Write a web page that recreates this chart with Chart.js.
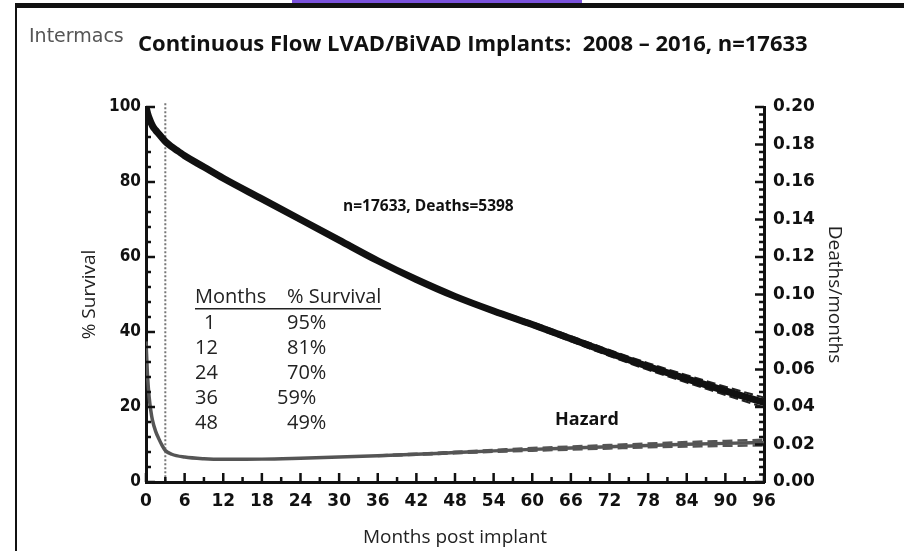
<!DOCTYPE html>
<html>
<head>
<meta charset="utf-8">
<script src="https://cdn.jsdelivr.net/npm/chart.js@4.4.1/dist/chart.umd.min.js"></script>
<style>
html, body { margin: 0; padding: 0; background: #fff; }
#wrap { width: 904px; height: 551px; }
</style>
</head>
<body>
<div id="wrap"><canvas id="survivalChart" width="904" height="551"></canvas></div>
<script>
// survival curve (% alive), left axis
var survMonths = [0, 0.25, 0.5, 1, 1.5, 2, 3, 4, 5, 6, 9, 12, 18, 24, 30, 36, 42, 48, 54, 60, 66, 72, 78, 84, 90, 96];
var survival   = [100, 98.3, 97, 95, 93.8, 92.8, 90.8, 89.4, 88.2, 87, 84, 81, 75.5, 70, 64.5, 59, 54, 49.5, 45.6, 42, 38.2, 34.4, 30.8, 27.5, 24.3, 21.2];

// confidence limits, only separate from the curve late on
var bandMonths = [36, 42, 48, 54, 60, 66, 72, 78, 84, 90, 96];
var survUpper  = [59.2, 54.3, 49.9, 46.1, 42.6, 38.9, 35.2, 31.7, 28.5, 25.4, 22.5];
var survLower  = [58.8, 53.7, 49.1, 45.1, 41.4, 37.5, 33.6, 29.9, 26.5, 23.2, 19.9];

// hazard (deaths/month), right axis
var hazMonths = [0, 0.25, 0.5, 0.75, 1, 1.5, 2, 2.5, 3, 4, 6, 9, 12, 18, 24, 30, 36, 42, 48, 54, 60, 66, 72, 78, 84, 90, 96];
var hazard    = [0.075, 0.056, 0.045, 0.038, 0.033, 0.027, 0.023, 0.0195, 0.0168, 0.0148, 0.0133, 0.0124, 0.0121, 0.0122, 0.0127, 0.0133, 0.014, 0.0148, 0.0157, 0.0166, 0.0174, 0.0181, 0.0188, 0.0195, 0.0201, 0.0206, 0.021];
var hazUpper  = [0.0142, 0.0151, 0.0161, 0.0171, 0.0181, 0.0189, 0.0197, 0.0205, 0.0213, 0.0219, 0.0225];
var hazLower  = [0.0138, 0.0145, 0.0153, 0.0161, 0.0167, 0.0173, 0.0179, 0.0185, 0.0189, 0.0193, 0.0195];

// tick labels
var monthTicks = [0, 6, 12, 18, 24, 30, 36, 42, 48, 54, 60, 66, 72, 78, 84, 90, 96];

// survival table
var tableMonths   = ['1', '12', '24', '36', '48'];
var tableSurvival = ['95%', '81%', '70%', '59%', '49%'];

function pts(xs, ys) {
    return xs.map(function (x, i) { return { x: x, y: ys[i] }; });
}

var tickFont = { family: '"DejaVu Sans", sans-serif', size: 17, weight: 'bold' };
var leftTickFont = { family: '"DejaVu Sans Condensed", "DejaVu Sans", sans-serif', size: 17, weight: 'bold' };
var titleFont = { family: '"Open Sans", sans-serif', size: 19 };

// frame, heading, annotations and inward ticks
var decor = {
    id: 'decor',
    beforeDraw: function (chart) {
        var ctx = chart.ctx;
        ctx.save();
        ctx.fillStyle = '#fff';
        ctx.fillRect(0, 0, chart.width, chart.height);
        ctx.fillStyle = '#7a52dc';
        ctx.fillRect(292, 0, 290, 3);
        ctx.fillStyle = '#111';
        ctx.fillRect(15, 3, chart.width - 15, 5);
        ctx.fillRect(15, 3, 2, chart.height);
        ctx.restore();
    },
    beforeDatasetsDraw: function (chart) {
        var ctx = chart.ctx, x = chart.scales.x, y = chart.scales.y;
        var px = x.getPixelForValue(3);
        ctx.save();
        ctx.strokeStyle = '#777';
        ctx.lineWidth = 2;
        ctx.setLineDash([2, 2]);
        ctx.beginPath();
        ctx.moveTo(px, y.getPixelForValue(101));
        ctx.lineTo(px, y.bottom);
        ctx.stroke();
        ctx.restore();
    },
    afterDraw: function (chart) {
        var ctx = chart.ctx, x = chart.scales.x, y = chart.scales.y, y2 = chart.scales.y2;
        var a = chart.chartArea;
        ctx.save();
        ctx.strokeStyle = '#111';
        ctx.lineWidth = 2.5;
        ctx.beginPath();
        var v, p, len;
        for (v = 0; v <= 96; v += 3) {
            p = x.getPixelForValue(v);
            len = v % 6 === 0 ? 9 : 5;
            ctx.moveTo(p, a.bottom); ctx.lineTo(p, a.bottom - len);
        }
        for (v = 0; v <= 100; v += 4) {
            p = y.getPixelForValue(v);
            len = v % 20 === 0 ? 9 : 5;
            ctx.moveTo(a.left, p); ctx.lineTo(a.left + len, p);
        }
        for (v = 0; v <= 50; v += 1) {
            p = y2.getPixelForValue(v * 0.004);
            len = v % 5 === 0 ? 9 : 5;
            ctx.moveTo(a.right, p); ctx.lineTo(a.right - len, p);
        }
        ctx.stroke();

        // heading
        ctx.textBaseline = 'middle';
        ctx.fillStyle = '#555';
        ctx.font = '19px "DejaVu Sans", sans-serif';
        ctx.fillText('Intermacs', 29, 37);
        ctx.fillStyle = '#111';
        ctx.font = 'bold 22px "Open Sans", sans-serif';
        ctx.fillText('Continuous Flow LVAD/BiVAD Implants:  2008 \u2013 2016, n=17633', 138, 45);

        // annotations
        ctx.font = 'bold 15.5px "Open Sans", sans-serif';
        ctx.fillText('n=17633, Deaths=5398', 343, 207);
        ctx.font = 'bold 18px "Open Sans", sans-serif';
        ctx.fillText('Hazard', 555, 420);

        // table
        ctx.font = '20px "Open Sans", sans-serif';
        ctx.fillStyle = '#222';
        ctx.fillText('Months', 195, 297);
        ctx.fillText('% Survival', 287, 297);
        ctx.fillRect(195, 308, 186, 1.5);
        for (var i = 0; i < tableMonths.length; i++) {
            var ry = 323 + i * 25;
            ctx.fillText(tableMonths[i], tableMonths[i].length === 1 ? 204 : 195, ry);
            ctx.fillText(tableSurvival[i], tableMonths[i] === '36' ? 277 : 287, ry);
        }
        ctx.restore();
    }
};

var ctx = document.getElementById('survivalChart').getContext('2d');
var chart = new Chart(ctx, {
    type: 'line',
    data: {
        datasets: [
            { label: 'Survival', data: pts(survMonths, survival), yAxisID: 'y', borderColor: '#111', borderWidth: 7, cubicInterpolationMode: 'monotone' },
            { label: 'Survival upper', data: pts(bandMonths, survUpper), yAxisID: 'y', borderColor: '#222', borderWidth: 2, borderDash: [9, 4], cubicInterpolationMode: 'monotone' },
            { label: 'Survival lower', data: pts(bandMonths, survLower), yAxisID: 'y', borderColor: '#222', borderWidth: 2, borderDash: [9, 4], cubicInterpolationMode: 'monotone' },
            { label: 'Hazard', data: pts(hazMonths, hazard), yAxisID: 'y2', borderColor: '#555', borderWidth: 3.5, cubicInterpolationMode: 'monotone' },
            { label: 'Hazard upper', data: pts(bandMonths, hazUpper), yAxisID: 'y2', borderColor: '#555', borderWidth: 2.5, borderDash: [10, 5], cubicInterpolationMode: 'monotone' },
            { label: 'Hazard lower', data: pts(bandMonths, hazLower), yAxisID: 'y2', borderColor: '#555', borderWidth: 2.5, borderDash: [10, 5], cubicInterpolationMode: 'monotone' }
        ]
    },
    options: {
        responsive: false,
        animation: false,
        events: [],
        elements: { point: { radius: 0 } },
        layout: { padding: { top: 107, left: 0, right: 0, bottom: 0 } },
        plugins: { legend: { display: false }, tooltip: { enabled: false } },
        scales: {
            x: {
                type: 'linear',
                min: 0, max: 96,
                afterFit: function (s) { s.height = 69; },
                afterBuildTicks: function (s) { s.ticks = monthTicks.map(function (v) { return { value: v }; }); },
                grid: { display: false, drawTicks: false },
                border: { display: true, color: '#111', width: 3 },
                ticks: { font: tickFont, color: '#111', padding: 9, maxRotation: 0, autoSkip: false },
                title: { display: true, text: 'Months post implant', font: titleFont, color: '#222', padding: { top: 0, bottom: 2 } }
            },
            y: {
                position: 'left',
                min: 0, max: 100,
                afterFit: function (s) { s.width = 146; },
                grid: { display: false, drawTicks: false },
                border: { display: true, color: '#111', width: 3 },
                ticks: { stepSize: 20, font: leftTickFont, color: '#111', padding: 5 },
                title: { display: true, text: '% Survival', font: titleFont, color: '#222', padding: { top: 78, bottom: 0 } }
            },
            y2: {
                position: 'right',
                min: 0, max: 0.2,
                afterFit: function (s) { s.width = 140; },
                grid: { display: false, drawTicks: false },
                border: { display: true, color: '#111', width: 3 },
                ticks: { stepSize: 0.02, font: tickFont, color: '#111', padding: 9, callback: function (v) { return v.toFixed(2); } },
                title: { display: true, text: 'Deaths/months', font: titleFont, color: '#222', padding: { top: 58, bottom: 0 } }
            }
        }
    },
    plugins: [decor]
});
</script>
</body>
</html>
